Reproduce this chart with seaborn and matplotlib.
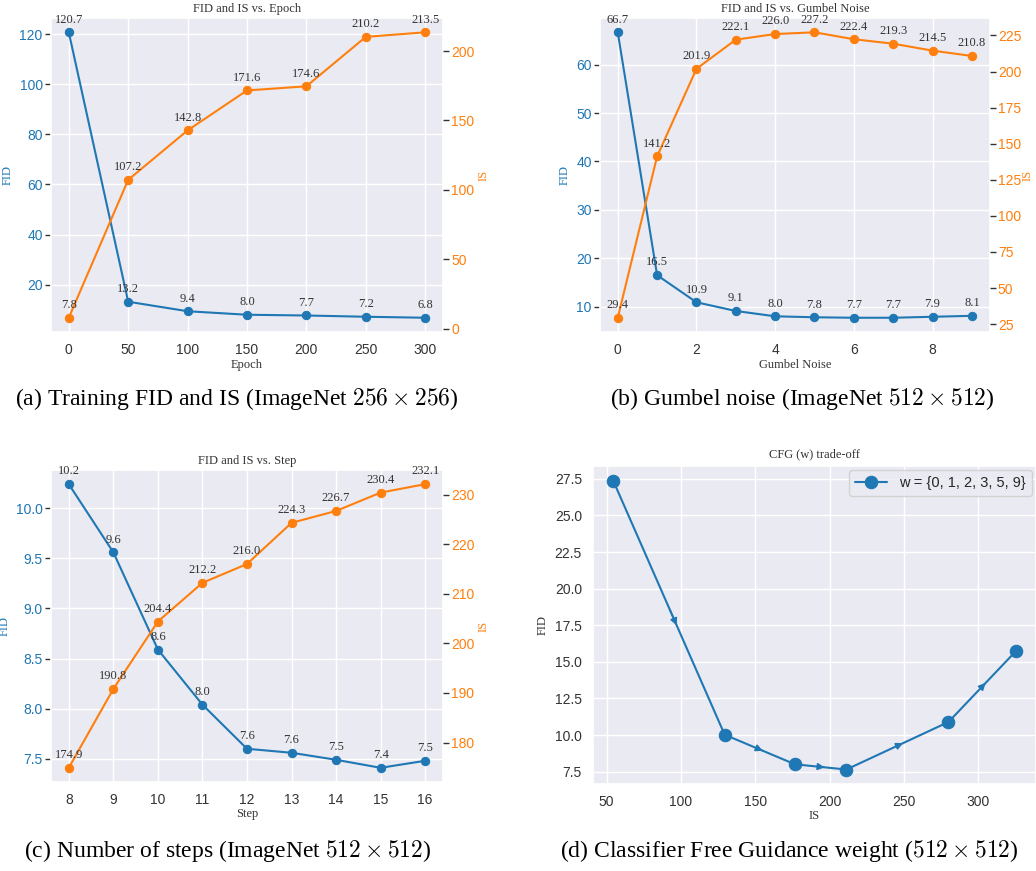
import numpy as np
import matplotlib
matplotlib.use('Agg')
import matplotlib.pyplot as plt
import seaborn as sns

# (a) training curve
epochs = [0, 50, 100, 150, 200, 250, 300]
epoch_fid = [120.7, 13.2, 9.4, 8.0, 7.7, 7.2, 6.8]
epoch_is = [7.8, 107.2, 142.8, 171.6, 174.6, 210.2, 213.5]

# (b) gumbel noise
gumbel = [0, 1, 2, 3, 4, 5, 6, 7, 8, 9]
gumbel_fid = [66.7, 16.5, 10.9, 9.1, 8.0, 7.8, 7.7, 7.7, 7.9, 8.1]
gumbel_is = [29.4, 141.2, 201.9, 222.1, 226.0, 227.2, 222.4, 219.3, 214.5, 210.8]

# (c) number of steps
steps = [8, 9, 10, 11, 12, 13, 14, 15, 16]
step_fid = [10.24, 9.56, 8.59, 8.04, 7.60, 7.56, 7.49, 7.41, 7.48]
step_is = [174.9, 190.8, 204.4, 212.2, 216.0, 224.3, 226.7, 230.4, 232.1]

# (d) CFG trade-off
cfg_is = [54.4, 129.4, 176.6, 211.2, 279.9, 325.2]
cfg_fid = [27.39, 10.02, 8.0, 7.64, 10.89, 15.73]
cfg_label = 'w = {0, 1, 2, 3, 5, 9}'

captions = [
    r'(a) Training FID and IS (ImageNet $256\times256$)',
    r'(b) Gumbel noise (ImageNet $512\times512$)',
    r'(c) Number of steps (ImageNet $512\times512$)',
    r'(d) Classifier Free Guidance weight ($512\times512$)',
]

sns.set_theme(style='darkgrid')
plt.rcParams['font.family'] = ['Liberation Sans', 'DejaVu Sans']
plt.rcParams['mathtext.fontset'] = 'cm'

BLUE = '#1f77b4'
ORANGE = '#ff7f0e'
SERIF = ['Liberation Serif', 'DejaVu Serif']
TXT = 9
TICK = 10

fig = plt.figure(figsize=(10.36, 8.71), dpi=100)


def dual_panel(rect, x, fid, is_, title, xlabel, xticks=None, is_pad=2):
    ax = fig.add_axes(rect)
    sns.lineplot(x=x, y=fid, ax=ax, color=BLUE, marker='o', markersize=6,
                 markeredgecolor=BLUE, linewidth=1.5)
    ax2 = ax.twinx()
    sns.lineplot(x=x, y=is_, ax=ax2, color=ORANGE, marker='o', markersize=6,
                 markeredgecolor=ORANGE, linewidth=1.5)
    ax2.grid(False)
    for xv, yv in zip(x, fid):
        ax.annotate(f'{yv:.1f}', (xv, yv), textcoords='offset points', xytext=(0, 7),
                    ha='center', fontsize=TXT, family=SERIF, color='#333333')
    for xv, yv in zip(x, is_):
        ax2.annotate(f'{yv:.1f}', (xv, yv), textcoords='offset points', xytext=(0, 7),
                     ha='center', fontsize=TXT, family=SERIF, color='#333333')
    ax.set_title(title, fontsize=TXT, family=SERIF, pad=4, color='#333333')
    ax.set_xlabel(xlabel, fontsize=TXT, family=SERIF, labelpad=1, color='#333333')
    ax.set_ylabel('FID', fontsize=TXT, family=SERIF, color=BLUE, labelpad=4)
    ax2.set_ylabel('IS', fontsize=TXT, family=SERIF, color=ORANGE, labelpad=is_pad)
    ax.tick_params(axis='y', left=True, length=4, width=1, color='#333333',
                   labelcolor=BLUE, labelsize=TICK, pad=2)
    ax2.tick_params(axis='y', right=True, length=4, width=1, color='#333333',
                    labelcolor=ORANGE, labelsize=TICK, pad=2)
    ax.tick_params(axis='x', labelsize=TICK, labelcolor='#333333', pad=2)
    if xticks is not None:
        ax.set_xticks(xticks)
    for s in ax2.spines.values():
        s.set_visible(False)
    return ax, ax2


dual_panel([0.0492, 0.6188, 0.3784, 0.3605], epochs, epoch_fid, epoch_is,
           'FID and IS vs. Epoch', 'Epoch', epochs)
dual_panel([0.5792, 0.6188, 0.3760, 0.3605], gumbel, gumbel_fid, gumbel_is,
           'FID and IS vs. Gumbel Noise', 'Gumbel Noise', [0, 2, 4, 6, 8], is_pad=0)
dual_panel([0.0492, 0.1022, 0.3784, 0.3582], steps, step_fid, step_is,
           'FID and IS vs. Step', 'Step', steps)

# (d)
axd = fig.add_axes([0.5724, 0.0999, 0.4276, 0.365])
sns.lineplot(x=cfg_is, y=cfg_fid, ax=axd, color=BLUE, marker='o', markersize=9,
             markeredgecolor=BLUE, linewidth=1.5, label=cfg_label, sort=False)
for i in range(len(cfg_is) - 1):
    x0, y0 = cfg_is[i], cfg_fid[i]
    x1, y1 = cfg_is[i + 1], cfg_fid[i + 1]
    tail = (x0 + 0.50 * (x1 - x0), y0 + 0.50 * (y1 - y0))
    tip = (x0 + 0.58 * (x1 - x0), y0 + 0.58 * (y1 - y0))
    axd.annotate('', xy=tip, xytext=tail,
                 arrowprops=dict(arrowstyle='-|>', color=BLUE, lw=1.2, mutation_scale=10))
axd.set_title('CFG (w) trade-off', fontsize=TXT, family=SERIF, pad=6, color='#333333')
axd.set_xlabel('IS', fontsize=TXT, family=SERIF, labelpad=1, color='#333333')
axd.set_ylabel('FID', fontsize=TXT, family=SERIF, labelpad=4, color='#333333')
axd.tick_params(labelsize=TICK, labelcolor='#333333', pad=2)
axd.legend(loc='upper right', fontsize=10.5, handlelength=2.2, borderaxespad=0.3)

# captions
cap_pos = [(0.229, 0.527), (0.774, 0.527), (0.220, 0.008), (0.762, 0.008)]
for (cx, cy), text in zip(cap_pos, captions):
    fig.text(cx, cy, text, ha='center', va='bottom', fontsize=17, family=SERIF, color='black')

fig.savefig('out.png', dpi=100, facecolor='white')
